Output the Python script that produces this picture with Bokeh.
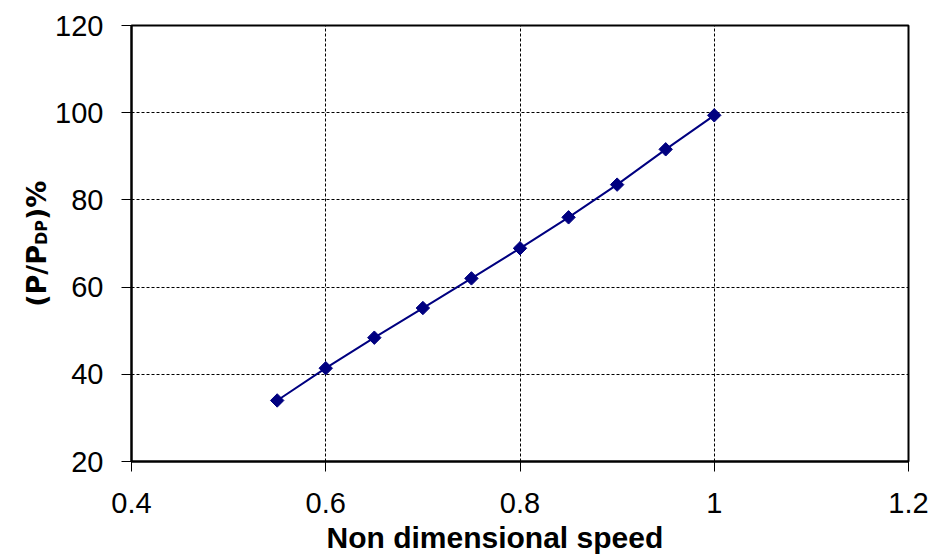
import math
from bokeh.plotting import figure
from bokeh.models import FixedTicker, Title
from bokeh.core.properties import value
from bokeh.layouts import row
from bokeh.embed import file_html
from bokeh.resources import INLINE

# Data
speed = [0.55, 0.60, 0.65, 0.70, 0.75, 0.80, 0.85, 0.90, 0.95, 1.00]
power_pct = [34.0, 41.4, 48.4, 55.2, 62.0, 68.9, 76.0, 83.5, 91.6, 99.4]

x_ticks = [0.4, 0.6, 0.8, 1.0, 1.2]
x_tick_labels = ["0.4", "0.6", "0.8", "1", "1.2"]
y_ticks = [20, 40, 60, 80, 100, 120]
y_tick_labels = ["20", "40", "60", "80", "100", "120"]

x_title = "Non dimensional speed"
y_title_parts = ["(P/P", "DP", ")%"]

X0, X1 = 0.4, 1.2
Y0, Y1 = 20, 120

W, H = 934, 558
LW = 52                      # width of the strip holding the y title
FRAME_L, FRAME_R, FRAME_T, FRAME_B = 130, 908, 25, 461

FONT = "Liberation Sans"

# ---- main chart ----
p = figure(width=W - LW, height=H, x_range=(X0, X1), y_range=(Y0, Y1),
           output_backend="svg", toolbar_location=None,
           min_border_left=FRAME_L - LW, min_border_right=W - FRAME_R,
           min_border_top=FRAME_T, min_border_bottom=H - FRAME_B)
p.background_fill_color = "white"
p.border_fill_color = "white"
p.outline_line_color = "black"
p.outline_line_width = 2

p.xaxis.ticker = FixedTicker(ticks=x_ticks)
p.yaxis.ticker = FixedTicker(ticks=y_ticks)
p.xaxis.major_label_overrides = {t: l for t, l in zip(x_ticks, x_tick_labels)}
p.yaxis.major_label_overrides = {t: l for t, l in zip(y_ticks, y_tick_labels)}
for ax in (p.xaxis, p.yaxis):
    ax.axis_line_color = "black"
    ax.axis_line_width = 2
    ax.major_tick_line_color = "black"
    ax.major_tick_line_width = 1
    ax.major_tick_out = 10
    ax.major_tick_in = 0
    ax.minor_tick_line_color = None
    ax.major_label_text_font = FONT
    ax.major_label_text_font_size = "29px"
    ax.major_label_text_color = "black"
p.yaxis.major_label_standoff = 18
p.xaxis.major_label_standoff = 21

for g in (p.xgrid, p.ygrid):
    g.grid_line_color = "black"
    g.grid_line_width = 1
    g.grid_line_dash = "3 2"
p.xgrid.ticker = FixedTicker(ticks=x_ticks[1:-1])
p.ygrid.ticker = FixedTicker(ticks=y_ticks[1:-1])

p.line(speed, power_pct, line_color="#000080", line_width=2)
p.scatter(speed, power_pct, marker="square", angle=math.pi / 4, size=9.5,
          fill_color="#000080", line_color="#000080")

# x title
p.add_layout(Title(text=x_title, align="left", offset=195,
                   text_font=FONT, text_font_size="30px", text_font_style="bold",
                   text_color="black", standoff=6), "below")

# ---- strip with the y title (rotated, with subscript) ----
q = figure(width=LW, height=H, x_range=(0, LW), y_range=(0, H),
           output_backend="svg", toolbar_location=None,
           x_axis_type=None, y_axis_type=None, min_border=0)
q.outline_line_color = None
q.xgrid.visible = False
q.ygrid.visible = False
q.background_fill_color = "white"
q.border_fill_color = "white"

big, small = 27, 16
TFONT = "DejaVu Sans"
adv = [2.288 * big, 1.563 * small, 1.459 * big]
sizes = [big, small, big]
mid_x = [35.5, 40.5, 35.5]       # middle of each text line, px from strip left
anchor_y = 198                    # common anchor of the title in the strip
off = 0.0
for txt, a, s, mx in zip(y_title_parts, adv, sizes, mid_x):
    q.text(x=[mx], y=[anchor_y], text=[txt], angle=math.pi / 2, y_offset=-off,
           text_font=value(TFONT), text_font_size=value(f"{s}px"),
           text_font_style="bold", text_align="left", text_baseline="middle",
           text_color="black")
    off += a

open("out.html", "w").write(file_html(row(q, p), INLINE))
